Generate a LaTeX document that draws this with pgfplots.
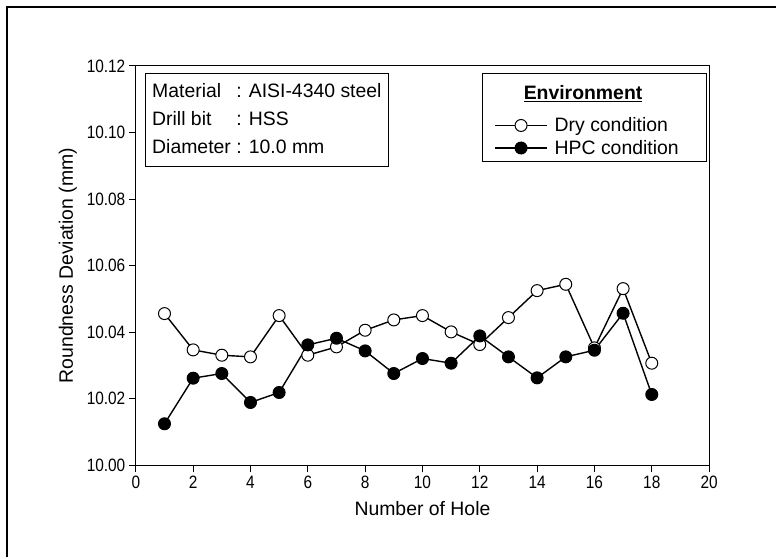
\documentclass[border=0pt]{standalone}
\usepackage{fontspec}
\setmainfont{Liberation Sans}
\newfontfamily\narrowfont{Liberation Sans}[FakeStretch=0.86]
\usepackage{pgfplots}
\pgfplotsset{compat=1.18}
\begin{document}
\begin{tikzpicture}
\begin{axis}[
  at={(0,0)}, anchor=origin,
  scale only axis, width=574bp, height=400bp,
  xmin=0, xmax=20, ymin=10.00, ymax=10.12,
  xtick={0,2,...,20},
  ytick={10.00,10.02,10.04,10.06,10.08,10.10,10.12},
  tick pos=left, tick align=outside,
  major tick length=7bp,
  every tick/.style={black, line width=1bp},
  axis line style={line width=1.1bp},
  /pgf/number format/assume math mode=true,
  yticklabel style={/pgf/number format/.cd, fixed, fixed zerofill, precision=2},
  ticklabel style={font=\narrowfont\fontsize{18}{20}\selectfont},
  xlabel={Number of Hole},
  ylabel={Roundness Deviation (mm)},
  label style={font=\fontsize{19.5}{22}\selectfont},
  xlabel style={yshift=-6bp},
  ylabel style={yshift=3bp},
  legend cell align=left,
  legend style={at={(rel axis cs:1,1)}, anchor=north east, xshift=-2bp, yshift=-7bp,
    font=\fontsize{19.5}{22}\selectfont, draw=black, line width=0.8bp,
    inner xsep=12bp, inner ysep=4bp, row sep=3bp},
  legend image code/.code={\draw[mark repeat=2,mark phase=2,#1] plot coordinates {(0bp,0bp) (26bp,0bp) (52bp,0bp)};\path (57bp,0bp);},
]
\addlegendimage{empty legend}
\addlegendentry{\hspace*{-31bp}\underline{\textbf{Environment}}\rule[-23bp]{0pt}{43bp}}
\addlegendimage{empty legend}
\addlegendentry[font=\fontsize{1}{1}\selectfont]{\rule{0pt}{1.5bp}}
\addplot[black, line width=1.4bp, mark=*, mark size=6bp, mark options={fill=white, line width=1bp}]
coordinates {(1,10.0456) (2,10.0347) (3,10.0331) (4,10.0326) (5,10.0450) (6,10.0331) (7,10.0356) (8,10.0406) (9,10.0437) (10,10.0450) (11,10.0401) (12,10.0363) (13,10.0444) (14,10.0525) (15,10.0544) (16,10.0353) (17,10.0531) (18,10.0307)};
\addlegendentry{Dry condition}
\addplot[black, line width=1.4bp, mark=*, mark size=6bp, mark options={fill=black, line width=1bp}]
coordinates {(1,10.0125) (2,10.0262) (3,10.0276) (4,10.0189) (5,10.0219) (6,10.0362) (7,10.0382) (8,10.0344) (9,10.0276) (10,10.0321) (11,10.0307) (12,10.0389) (13,10.0326) (14,10.0263) (15,10.0326) (16,10.0346) (17,10.0457) (18,10.0213)};
\addlegendentry{HPC condition\hspace*{14bp}}
\node[draw=black, line width=0.8bp, anchor=north west, inner xsep=7bp, inner ysep=5bp,
  font=\fontsize{19.5}{28}\selectfont] at ([xshift=9bp,yshift=-7bp]rel axis cs:0,1)
  {\begin{tabular}{@{}l@{ }l@{}}Material & : AISI-4340 steel\\ Drill bit & : HSS\\ Diameter & : 10.0 mm\end{tabular}};
\end{axis}
\path (-136bp,-92bp) rectangle (641bp,466bp);
\draw[line width=2bp] (-129bp,-92bp) -- (-129bp,459bp) -- (641bp,459bp);
\end{tikzpicture}
\end{document}
